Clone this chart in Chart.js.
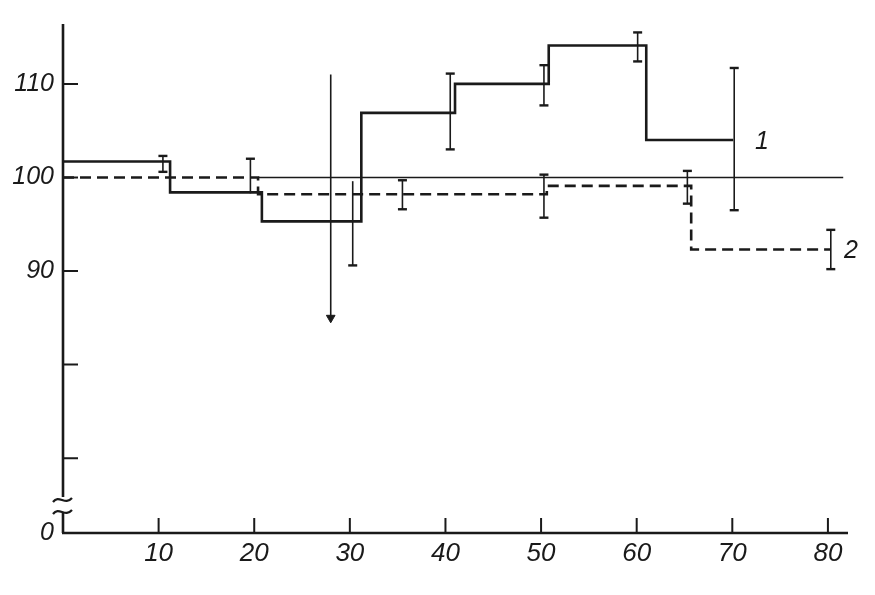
<!DOCTYPE html>
<html>
<head>
<meta charset="utf-8">
<script src="https://cdn.jsdelivr.net/npm/chart.js@4.4.1/dist/chart.umd.min.js"></script>
<style>
  html, body { margin: 0; padding: 0; background: #fff; }
  #wrap { width: 875px; height: 595px; position: relative; }
</style>
</head>
<body>
<div id="wrap"><canvas id="c"></canvas></div>
<script>
// axis ticks
const xTicks = [10, 20, 30, 40, 50, 60, 70, 80];
const yTicks = [70, 80, 90, 100, 110];
const yLabelled = [90, 100, 110];
const yBreakValue = 62.0; // bottom of the broken axis, labelled "0"

// curve 1 (solid steps)
const s1Edges = [0, 11.2, 20.8, 31.2, 41.0, 50.8, 61.0, 70.1];
const s1Values = [101.7, 98.4, 95.3, 106.9, 110.0, 114.1, 104.0];
const s1ErrX = [10.45, 30.3, 40.5, 50.3, 60.1, 70.2];
const s1ErrLo = [100.6, 90.6, 103.0, 107.7, 112.4, 96.5];
const s1ErrHi = [102.3, 99.6, 111.1, 112.0, 115.5, 111.7];
const s1CapLo = [1, 1, 1, 1, 1, 1];
const s1CapHi = [1, 0, 1, 1, 1, 1];

// curve 2 (dashed steps)
const s2Edges = [0, 20.4, 50.6, 65.7, 80.3];
const s2Values = [100.0, 98.2, 99.1, 92.3];
const s2ErrX = [19.6, 35.5, 50.3, 65.3, 80.3];
const s2ErrLo = [98.3, 96.6, 95.7, 97.2, 90.2];
const s2ErrHi = [102.0, 99.7, 100.3, 100.7, 94.4];
const s2CapLo = [0, 1, 1, 1, 1];
const s2CapHi = [1, 1, 1, 1, 1];

// reference level and the arrow
const refLevel = 100;
const refFrom = 20.4, refTo = 81.6;
const arrowX = 28.0, arrowTop = 111.0, arrowBottom = 85.0;

// curve numbers
const curveLabels = ['1', '2'];
const curveLabelX = [73.1, 82.4];
const curveLabelY = [103.8, 92.1];

const INK = '#1a1a1a';
const FONT = '"Liberation Sans", Arial, sans-serif';

function steps(edges, values) {
  const pts = values.map((v, i) => ({ x: edges[i], y: v }));
  pts.push({ x: edges[edges.length - 1], y: values[values.length - 1] });
  return pts;
}

function errorBars(xs, lo, hi, capLo, capHi) {
  return xs.map((x, i) => ({
    data: [{ x: x, y: lo[i] }, { x: x, y: hi[i] }],
    showLine: true,
    borderColor: INK,
    borderWidth: 1.6,
    pointStyle: 'line',
    pointRadius: [capLo[i] ? 4.5 : 0, capHi[i] ? 4.5 : 0],
    pointBorderWidth: 2.4,
    pointBorderColor: INK,
    clip: false
  }));
}

const datasets = [
  {
    data: [{ x: refFrom, y: refLevel }, { x: refTo, y: refLevel }],
    showLine: true, borderColor: INK, borderWidth: 1.6, pointRadius: 0
  },
  {
    data: steps(s1Edges, s1Values),
    showLine: true, stepped: true, borderColor: INK, borderWidth: 2.6, pointRadius: 0
  },
  {
    data: steps(s2Edges, s2Values),
    showLine: true, stepped: true, borderColor: INK, borderWidth: 2.6,
    borderDash: [11, 6], pointRadius: 0
  },
  ...errorBars(s1ErrX, s1ErrLo, s1ErrHi, s1CapLo, s1CapHi),
  ...errorBars(s2ErrX, s2ErrLo, s2ErrHi, s2CapLo, s2CapHi),
  {
    data: [{ x: arrowX, y: arrowTop }, { x: arrowX, y: arrowBottom }],
    showLine: true, borderColor: INK, borderWidth: 1.6,
    pointStyle: 'triangle', pointRotation: 180,
    pointRadius: [0, 5], pointBackgroundColor: INK, pointBorderColor: INK, pointBorderWidth: 1
  }
];

const axesPlugin = {
  id: 'handAxes',
  afterDraw(chart) {
    const ctx = chart.ctx;
    const xs = chart.scales.x, ys = chart.scales.y;
    const left = xs.left, bottom = ys.bottom;
    ctx.save();
    ctx.strokeStyle = INK;
    ctx.lineCap = 'butt';

    // y axis with a break
    const breakTop = bottom - 36, breakBot = bottom - 20;
    ctx.lineWidth = 2.6;
    ctx.beginPath();
    ctx.moveTo(left, ys.top);
    ctx.lineTo(left, breakTop);
    ctx.moveTo(left, breakBot);
    ctx.lineTo(left, bottom);
    ctx.stroke();
    ctx.lineWidth = 2.2;
    [breakTop + 3, breakBot - 1].forEach(y => {
      ctx.beginPath();
      ctx.moveTo(left - 10, y + 2);
      ctx.bezierCurveTo(left - 4, y - 6, left + 2, y + 6, left + 9, y - 2);
      ctx.stroke();
    });

    // x axis
    ctx.lineWidth = 2.6;
    ctx.beginPath();
    ctx.moveTo(left - 1, bottom);
    ctx.lineTo(xs.right, bottom);
    ctx.stroke();

    // inward tick marks
    ctx.lineWidth = 2;
    ctx.beginPath();
    yTicks.forEach(v => {
      const y = ys.getPixelForValue(v);
      ctx.moveTo(left, y);
      ctx.lineTo(left + 15, y);
    });
    xTicks.forEach(v => {
      const x = xs.getPixelForValue(v);
      ctx.moveTo(x, bottom);
      ctx.lineTo(x, bottom - 15);
    });
    ctx.stroke();

    // curve numbers
    ctx.fillStyle = INK;
    ctx.font = 'italic 25px ' + FONT;
    ctx.textAlign = 'center';
    ctx.textBaseline = 'middle';
    curveLabels.forEach((t, i) => {
      ctx.fillText(t, xs.getPixelForValue(curveLabelX[i]), ys.getPixelForValue(curveLabelY[i]));
    });
    ctx.restore();
  }
};

new Chart(document.getElementById('c'), {
  type: 'scatter',
  data: { datasets: datasets },
  options: {
    responsive: true,
    maintainAspectRatio: false,
    animation: false,
    layout: { padding: { top: 22, right: 27, left: 0, bottom: 0 } },
    plugins: { legend: { display: false }, tooltip: { enabled: false } },
    scales: {
      x: {
        type: 'linear',
        min: 0,
        max: 82.1,
        grid: { display: false, drawTicks: false },
        border: { display: false },
        afterBuildTicks: s => { s.ticks = xTicks.map(v => ({ value: v })); },
        afterFit: s => { s.height = 62; },
        ticks: {
          padding: 5,
          color: INK,
          font: { family: FONT, size: 26, style: 'italic' },
          callback: v => String(v)
        }
      },
      y: {
        type: 'linear',
        min: yBreakValue,
        max: 116.4,
        grid: { display: false, drawTicks: false },
        border: { display: false },
        afterBuildTicks: s => { s.ticks = [yBreakValue, ...yTicks].map(v => ({ value: v })); },
        afterFit: s => { s.width = 63; },
        ticks: {
          padding: 9,
          color: INK,
          font: { family: FONT, size: 25, style: 'italic' },
          callback: v => v === yBreakValue ? '0' : (yLabelled.includes(v) ? String(v) : '')
        }
      }
    }
  },
  plugins: [axesPlugin]
});
</script>
</body>
</html>
